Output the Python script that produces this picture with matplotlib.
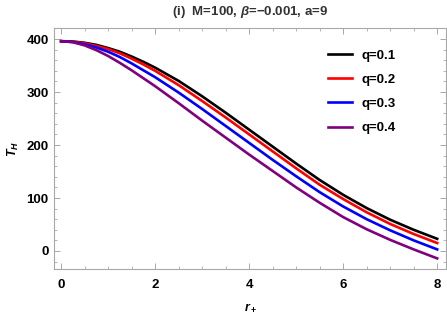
import matplotlib
matplotlib.use("Agg")
import matplotlib.pyplot as plt
from matplotlib.ticker import MultipleLocator

plt.rcParams['font.family'] = ['Liberation Sans', 'DejaVu Sans']
plt.rcParams['font.weight'] = 'bold'
plt.rcParams['mathtext.fontset'] = 'custom'
plt.rcParams['mathtext.rm'] = 'Liberation Sans:bold'
plt.rcParams['mathtext.it'] = 'Liberation Sans:bold:italic'
plt.rcParams['mathtext.bf'] = 'Liberation Sans:bold'

# r_+ samples
r_plus = [0, 0.25, 0.5, 0.75, 1, 1.25, 1.5, 1.75, 2, 2.5, 3, 3.5, 4,
          4.5, 5, 5.5, 6, 6.5, 7, 7.5, 8]

# T_H for each charge q
T_q01 = [396, 395.3, 393, 389, 383, 376, 367, 357, 346, 321, 292, 261, 229,
         197, 165, 134, 106, 81, 59, 40, 23]
T_q02 = [396, 395, 392, 387, 381, 373, 363, 352, 340, 313, 283, 252, 220,
         188, 156, 125, 98, 73, 51, 32, 15]
T_q03 = [396, 394.5, 390, 384, 376, 366, 354, 341, 328, 299, 268, 236, 204,
         172, 141, 111, 84, 60, 39, 20, 3]
T_q04 = [396, 394, 388, 379, 368, 355, 341, 326, 311, 279, 246, 214, 182,
         151, 120, 91, 64, 41, 21, 3, -14]

labels = ['q=0.1', 'q=0.2', 'q=0.3', 'q=0.4']
colors = ['black', 'red', 'blue', 'purple']

fig = plt.figure(figsize=(4.47, 3.21), dpi=100)
ax = fig.add_axes([0.121, 0.162, 0.877, 0.751])

for T, lab, c in zip([T_q01, T_q02, T_q03, T_q04], labels, colors):
    ax.plot(r_plus, T, color=c, lw=1.9, label=lab)

ax.set_xlim(-0.15, 8.19)
ax.set_ylim(-34, 421)

ax.xaxis.set_major_locator(MultipleLocator(2))
ax.xaxis.set_minor_locator(MultipleLocator(0.5))
ax.yaxis.set_major_locator(MultipleLocator(100))
ax.yaxis.set_minor_locator(MultipleLocator(20))

for s in ax.spines.values():
    s.set_color('#a8a8a8')
    s.set_linewidth(0.8)
ax.tick_params(which='both', direction='in', top=True, right=True,
               color='#a8a8a8', labelsize=9.5)
ax.tick_params(which='major', length=4, width=0.7)
ax.tick_params(which='minor', length=2, width=0.6)
ax.tick_params(axis='x', which='major', pad=7)
ax.tick_params(axis='y', which='major', pad=4)
for t in ax.get_xticklabels() + ax.get_yticklabels():
    t.set_fontweight('bold')

ax.set_xlabel(r'$r_+$', fontsize=9, labelpad=8)
ax.set_ylabel(r'$T_H$', fontsize=9, labelpad=4)
ax.set_title('(i)  M=100, $\\beta$=\u22120.001, a=9', fontsize=9.5,
             fontweight='bold', color='#333333', pad=9)

ax.legend(loc='upper left', bbox_to_anchor=(0.699, 0.91), frameon=False,
          borderpad=0, borderaxespad=0,
          handlelength=1.8, handletextpad=0.75,
          labelspacing=0.9, prop={'weight': 'bold', 'size': 9.5})

fig.savefig('out.png', dpi=100)
